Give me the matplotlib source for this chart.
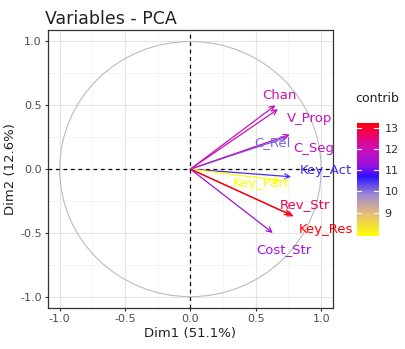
import numpy as np
import matplotlib
matplotlib.use("Agg")
import matplotlib.pyplot as plt
from matplotlib.colors import LinearSegmentedColormap, Normalize
from matplotlib.patches import Circle

# coordinates of variables on Dim1 / Dim2
names = ["Chan", "V_Prop", "C_Rel", "C_Seg", "Key_Act", "Key_Part", "Rev_Str", "Key_Res", "Cost_Str"]
dim1 = [0.65, 0.67, 0.74, 0.76, 0.77, 0.69, 0.79, 0.77, 0.63]
dim2 = [0.50, 0.47, 0.25, 0.27, -0.06, -0.09, -0.37, -0.36, -0.50]
contrib = [12.0, 11.9, 10.1, 11.8, 10.5, 7.9, 12.8, 13.24, 11.3]

# label offsets from arrow tip (data units)
lab_dx = [-0.10, 0.07, -0.25, 0.03, 0.07, -0.37, -0.11, 0.06, -0.13]
lab_dy = [0.075, -0.07, -0.04, -0.105, 0.05, -0.02, 0.095, -0.11, -0.13]

fig = plt.figure(figsize=(4.06, 3.49), dpi=100)
ax = fig.add_axes([0.118, 0.117, 0.702, 0.797])

vmin, vmax = min(contrib), max(contrib)
stops = [(7.9, '#FFFF00'), (8.9, '#E6BF78'), (9.8, '#A48CD0'), (10.7, '#2A10FF'),
         (11.2, '#9A10E0'), (12.0, '#CC10B8'), (12.7, '#F00060'), (13.24, '#FF0000')]
cmap = LinearSegmentedColormap.from_list(
    "contrib", [((v - vmin) / (vmax - vmin), c) for v, c in stops])
norm = Normalize(vmin, vmax)

# grid
for v in [-1, -0.5, 0, 0.5, 1]:
    ax.axvline(v, color='#E5E5E5', lw=0.8, zorder=0)
    ax.axhline(v, color='#E5E5E5', lw=0.8, zorder=0)
for v in [-0.75, -0.25, 0.25, 0.75]:
    ax.axvline(v, color='#F2F2F2', lw=0.5, zorder=0)
    ax.axhline(v, color='#F2F2F2', lw=0.5, zorder=0)

ax.add_patch(Circle((0, 0), 1, fill=False, ec='#BBBBBB', lw=0.8, zorder=1))
ax.axhline(0, color='black', ls=(0, (3, 3)), lw=0.9, zorder=2)
ax.axvline(0, color='black', ls=(0, (3, 3)), lw=0.9, zorder=2)

for i in range(len(names)):
    col = cmap(norm(contrib[i]))
    ax.annotate("", xy=(dim1[i], dim2[i]), xytext=(0, 0),
                arrowprops=dict(arrowstyle='->', color=col, lw=0.9,
                                mutation_scale=9, shrinkA=0, shrinkB=0), zorder=3)
    ax.text(dim1[i] + lab_dx[i], dim2[i] + lab_dy[i], names[i], color=col,
            fontsize=9.5, ha='left', va='center', zorder=4)

ax.set_xlim(-1.09, 1.09)
ax.set_ylim(-1.09, 1.09)
ax.set_xticks([-1, -0.5, 0, 0.5, 1])
ax.set_yticks([-1, -0.5, 0, 0.5, 1])
ax.set_xticklabels(["-1.0", "-0.5", "0.0", "0.5", "1.0"])
ax.set_yticklabels(["-1.0", "-0.5", "0.0", "0.5", "1.0"])
ax.tick_params(labelsize=8, colors='#333333', labelcolor='#4D4D4D',
               length=2.5, width=0.8, pad=2)
for s in ax.spines.values():
    s.set_color('#333333')
    s.set_linewidth(0.9)
ax.set_xlabel("Dim1 (51.1%)", fontsize=9.5, color='#222222', labelpad=2)
ax.set_ylabel("Dim2 (12.6%)", fontsize=9.5, color='#222222', labelpad=2)
ax.set_title("Variables - PCA", fontsize=12.5, loc='left', x=-0.01, pad=4, color='#222222')

# colour bar
cax = fig.add_axes([0.879, 0.324, 0.054, 0.324])
grad = np.linspace(vmin, vmax, 200).reshape(-1, 1)
cax.imshow(grad, aspect='auto', origin='lower', cmap=cmap, norm=norm,
           extent=[0, 1, vmin, vmax])
cax.set_xlim(0, 1)
cax.set_ylim(vmin, vmax)
cax.set_xticks([])
cax.yaxis.tick_right()
cax.set_yticks([9, 10, 11, 12, 13])
cax.tick_params(axis='y', length=0, labelsize=8, labelcolor='#333333', pad=4)
for t in [9, 10, 11, 12, 13]:
    cax.plot([0, 0.2], [t, t], color='white', lw=0.8)
    cax.plot([0.8, 1], [t, t], color='white', lw=0.8)
for s in cax.spines.values():
    s.set_visible(False)
fig.text(0.874, 0.70, "contrib", fontsize=9, color='#222222', ha='left', va='bottom')

fig.savefig("out.png", dpi=100)
